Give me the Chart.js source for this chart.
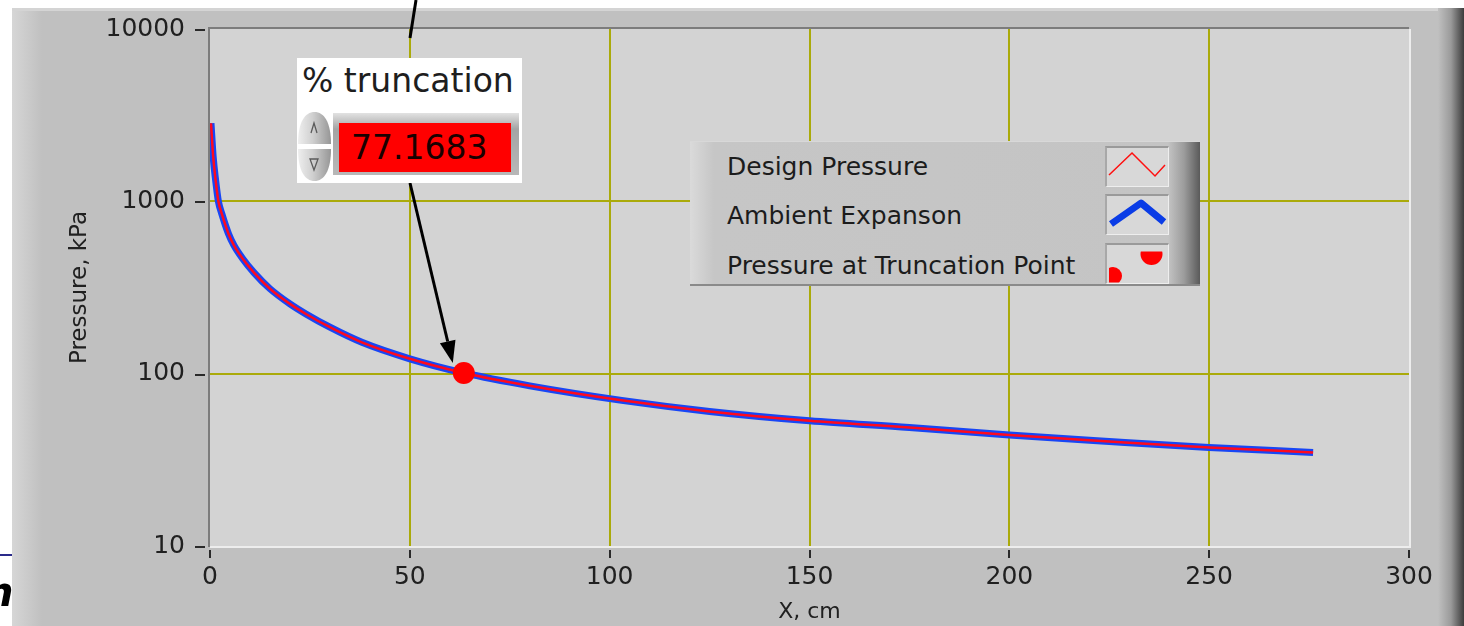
<!DOCTYPE html>
<html>
<head>
<meta charset="utf-8">
<title>Pressure vs X</title>
<script src="https://cdn.jsdelivr.net/npm/chart.js@4.4.1/dist/chart.umd.min.js"></script>
<style>
  body { margin: 0; background: #fff; font-family: "DejaVu Sans", sans-serif; }
  #wrap { position: relative; width: 1464px; height: 626px; overflow: hidden; }
  #wrap canvas { position: absolute; left: 0; top: 0; }

  #trunc { position: absolute; left: 297px; top: 58px; width: 225px; height: 125px; background: #fff; }
  #trunc-label { position: absolute; left: 5px; top: 6px; font-size: 33px; line-height: 33px; color: #1e1e1e; white-space: nowrap; }
  #spinner { position: absolute; left: 0; top: 52px; }
  #trunc-well { position: absolute; left: 36px; top: 55px; width: 186px; height: 62px;
    background: linear-gradient(#e2e2e2, #a4a4a4 16px, #b8b8b8); }
  #trunc-value { position: absolute; left: 42px; top: 65px; width: 172px; height: 49px; background: #ff0000;
    font-size: 33px; line-height: 33px; color: #1a0000; box-sizing: border-box; padding: 8px 0 0 12px; }

  #legend { position: absolute; left: 690px; top: 141px; width: 510px; height: 145px; box-sizing: border-box;
    background: linear-gradient(to right, #dadada 0px, #c6c6c6 24px, #c4c4c4 478px, #9c9c9c 494px, #5a5a5a 510px);
    border-bottom: 2px solid #8a8a8a; border-top: 1px solid #d8d8d8; }
  .leg-label { position: absolute; left: 37px; font-size: 25px; line-height: 25px; color: #1c1c1c; white-space: nowrap; }
  .leg-icon { position: absolute; left: 415px; width: 64px; height: 41px; box-sizing: border-box;
    background: #d8d8d8; border-top: 2px solid #9a9a9a; border-left: 2px solid #a8a8a8;
    border-right: 1px solid #eeeeee; border-bottom: 1px solid #eeeeee; }
  .leg-icon svg { position: absolute; left: -2px; top: -2px; }

  #slide-line { position: absolute; left: 0; top: 554px; width: 12px; height: 2px; background: #2a2a8a; }
  #slide-letter { position: absolute; left: -15px; top: 572px; font-size: 40px; line-height: 40px;
    font-weight: bold; font-style: italic; color: #000; }
</style>
</head>
<body>
<div id="wrap">
  <canvas id="pressure" width="1464" height="626"></canvas>

  <div id="slide-line"></div>
  <div id="slide-letter">n</div>

  <div id="trunc">
    <div id="trunc-label">% truncation</div>
    <svg id="spinner" width="35" height="73">
      <defs>
        <linearGradient id="spin-grad" x1="0" x2="1" y1="0" y2="0">
          <stop offset="0" stop-color="#eeeeee"/>
          <stop offset="0.45" stop-color="#cfcfcf"/>
          <stop offset="1" stop-color="#969696"/>
        </linearGradient>
      </defs>
      <path d="M1 34 C1 12 8 2 17.5 2 C27 2 34 12 34 34 Z" fill="url(#spin-grad)"/>
      <path d="M1 39 C1 61 8 71 17.5 71 C27 71 34 61 34 39 Z" fill="url(#spin-grad)"/>
      <path d="M14 23 L17 13 L20 23" stroke="#5a5a5a" stroke-width="1.3" fill="none"/>
      <path d="M13 49 L21 49 L17 60 Z" stroke="#5a5a5a" stroke-width="1.3" fill="none"/>
    </svg>
    <div id="trunc-well"></div>
    <div id="trunc-value"></div>
  </div>

  <div id="legend">
    <div class="leg-label" style="top: 12px">Design Pressure</div>
    <div class="leg-label" style="top: 61px">Ambient Expanson</div>
    <div class="leg-label" style="top: 111px">Pressure at Truncation Point</div>
    <div class="leg-icon" style="top: 4px">
      <svg width="64" height="41"><polyline points="4,29 27,7 50,30 60,19" stroke="#ff1010" stroke-width="1.5" fill="none"/></svg>
    </div>
    <div class="leg-icon" style="top: 52px">
      <svg width="64" height="41"><polyline points="6,30 36,9 59,28" stroke="#0a3ce6" stroke-width="7" fill="none" stroke-linejoin="round"/></svg>
    </div>
    <div class="leg-icon" style="top: 101px">
      <svg width="64" height="41">
        <defs><clipPath id="dot-clip"><rect x="4" y="8.5" width="56" height="31"/></clipPath></defs>
        <g clip-path="url(#dot-clip)" fill="#ff0000">
          <circle cx="8" cy="33" r="9"/>
          <circle cx="46.5" cy="11" r="11"/>
        </g>
      </svg>
    </div>
  </div>
</div>

<script>
// (x in cm, pressure in kPa)
const xValues = [0.25, 0.8, 1.4, 2.1, 3, 4.6, 6, 8, 11, 15, 20, 24, 30, 38, 50, 63.5, 80, 103, 125, 150, 175, 200, 225, 250, 276]
const designPressure = [2840, 1810, 1330, 1000, 840, 651, 555, 471, 386, 311, 254, 222, 186, 152, 122, 101, 85, 70, 60.4, 53.3, 48.7, 44.0, 40.4, 37.3, 34.9]
const ambientExpansion = [2840, 1810, 1330, 1000, 840, 651, 555, 471, 386, 311, 254, 222, 186, 152, 122, 101, 85, 70, 60.4, 53.3, 48.7, 44.0, 40.4, 37.3, 34.9]
const truncationX = [63.5]
const truncationP = [101]
const truncationPercent = "77.1683"

const xTicks = [0, 50, 100, 150, 200, 250, 300]
const yTicks = [10, 100, 1000, 10000]

const gridColor = "rgb(170,170,10)"
const textColor = "#202020"

document.getElementById("trunc-value").textContent = truncationPercent

function toPoints(xs, ys) {
  return xs.map((x, i) => ({ x: x, y: ys[i] }))
}

function innerGrid(count) {
  return (ctx) => (ctx.index === 0 || ctx.index === count - 1 ? "rgba(0,0,0,0)" : gridColor)
}

const labviewLook = {
  id: "labviewLook",
  beforeDraw(chart) {
    const { ctx, chartArea } = chart
    const w = chart.width
    const h = chart.height
    ctx.save()
    ctx.fillStyle = "#ffffff"
    ctx.fillRect(0, 0, w, h)

    // grey panel around the graph
    ctx.fillStyle = "#c0c0c0"
    ctx.fillRect(12, 8, w - 12, h - 8)
    let g = ctx.createLinearGradient(12, 0, 42, 0)
    g.addColorStop(0, "#d6d6d6")
    g.addColorStop(1, "#c0c0c0")
    ctx.fillStyle = g
    ctx.fillRect(12, 8, 30, h - 8)
    g = ctx.createLinearGradient(1438, 0, w, 0)
    g.addColorStop(0, "#c0c0c0")
    g.addColorStop(0.5, "#9a9a9a")
    g.addColorStop(1, "#3c3c3c")
    ctx.fillStyle = g
    ctx.fillRect(1438, 8, w - 1438, h - 8)
    ctx.fillStyle = "#d4d4d4"
    ctx.fillRect(12, 8, 1426, 3)

    // plot background
    ctx.fillStyle = "#d3d3d3"
    ctx.fillRect(chartArea.left, chartArea.top, chartArea.width, chartArea.height)
    ctx.restore()
  },
  beforeDatasetsDraw(chart) {
    const { ctx, chartArea } = chart
    ctx.save()
    ctx.lineWidth = 2
    ctx.strokeStyle = "#ededed"
    ctx.beginPath()
    ctx.moveTo(chartArea.left, chartArea.bottom + 1)
    ctx.lineTo(chartArea.right + 1, chartArea.bottom + 1)
    ctx.lineTo(chartArea.right + 1, chartArea.top)
    ctx.stroke()
    ctx.strokeStyle = "#7c7c7c"
    ctx.beginPath()
    ctx.moveTo(chartArea.left - 1, chartArea.bottom + 1)
    ctx.lineTo(chartArea.left - 1, chartArea.top - 1)
    ctx.lineTo(chartArea.right, chartArea.top - 1)
    ctx.stroke()
    ctx.restore()
  },
  afterDraw(chart) {
    const { ctx, chartArea } = chart
    const xs = chart.scales.x
    const ys = chart.scales.y
    ctx.save()

    // tick dashes, detached from the axes like the original
    ctx.strokeStyle = "#2a2a2a"
    ctx.lineWidth = 2
    yTicks.forEach((v) => {
      const py = Math.round(ys.getPixelForValue(v)) + 1
      ctx.beginPath()
      ctx.moveTo(195, py)
      ctx.lineTo(205, py)
      ctx.stroke()
    })
    xTicks.forEach((v) => {
      const px = Math.round(xs.getPixelForValue(v))
      ctx.beginPath()
      ctx.moveTo(px, chartArea.bottom + 4)
      ctx.lineTo(px, chartArea.bottom + 12)
      ctx.stroke()
    })

    // arrow from the % truncation box to the truncation point
    const cx = xs.getPixelForValue(truncationX[0])
    const cy = ys.getPixelForValue(truncationP[0])
    const tipX = cx - 11
    const tipY = cy - 10
    const startX = 410
    const startY = 183
    const len = Math.hypot(tipX - startX, tipY - startY)
    const ux = (tipX - startX) / len
    const uy = (tipY - startY) / len
    const baseX = tipX - ux * 22
    const baseY = tipY - uy * 22
    ctx.strokeStyle = "#000"
    ctx.lineWidth = 3
    ctx.beginPath()
    ctx.moveTo(startX, startY)
    ctx.lineTo(baseX, baseY)
    ctx.stroke()
    ctx.fillStyle = "#000"
    ctx.beginPath()
    ctx.moveTo(tipX, tipY)
    ctx.lineTo(baseX - uy * 8, baseY + ux * 8)
    ctx.lineTo(baseX + uy * 8, baseY - ux * 8)
    ctx.closePath()
    ctx.fill()

    // leader line coming into the box from above
    ctx.beginPath()
    ctx.moveTo(416, 0)
    ctx.lineTo(410, 38)
    ctx.stroke()
    ctx.restore()
  }
}

Chart.defaults.font.family = "DejaVu Sans"

const pressureChart = new Chart(document.getElementById("pressure"), {
  type: "line",
  data: {
    datasets: [
      {
        label: "Pressure at Truncation Point",
        data: toPoints(truncationX, truncationP),
        showLine: false,
        pointRadius: 11,
        pointStyle: "circle",
        pointBackgroundColor: "#ff0000",
        pointBorderWidth: 0,
        order: 0,
      },
      {
        label: "Design Pressure",
        data: toPoints(xValues, designPressure),
        borderColor: "#ff0a1e",
        borderWidth: 2.5,
        pointRadius: 0,
        cubicInterpolationMode: "monotone",
        order: 1,
      },
      {
        label: "Ambient Expanson",
        data: toPoints(xValues, ambientExpansion),
        borderColor: "#1846f5",
        borderWidth: 7,
        pointRadius: 0,
        cubicInterpolationMode: "monotone",
        order: 2,
      },
    ],
  },
  options: {
    responsive: false,
    animation: false,
    layout: {
      padding: { left: 0, top: 29, right: 55, bottom: 0 },
    },
    plugins: {
      legend: { display: false },
      tooltip: { enabled: false },
    },
    scales: {
      x: {
        type: "linear",
        min: 0,
        max: 300,
        afterBuildTicks: (scale) => {
          scale.ticks = xTicks.map((v) => ({ value: v }))
        },
        afterFit: (scale) => {
          scale.height = 80
        },
        // invisible tick marks only push the labels away from the axis
        grid: { color: innerGrid(xTicks.length), lineWidth: 2, drawTicks: true, tickLength: 16, tickColor: "rgba(0,0,0,0)" },
        border: { display: false },
        ticks: {
          color: textColor,
          font: { size: 25 },
          padding: 0,
          maxRotation: 0,
          autoSkip: false,
        },
        title: {
          display: true,
          text: "X, cm",
          color: textColor,
          font: { size: 22 },
          padding: { top: 0, bottom: 1 },
        },
      },
      y: {
        type: "logarithmic",
        min: 10,
        max: 10000,
        afterBuildTicks: (scale) => {
          scale.ticks = yTicks.map((v) => ({ value: v }))
        },
        afterFit: (scale) => {
          scale.width = 210
        },
        grid: { color: innerGrid(yTicks.length), lineWidth: 2, drawTicks: true, tickLength: 25, tickColor: "rgba(0,0,0,0)" },
        border: { display: false },
        ticks: {
          color: textColor,
          font: { size: 25 },
          padding: 0,
          autoSkip: false,
          callback: (v) => String(v),
        },
        title: {
          display: true,
          text: "Pressure, kPa",
          color: textColor,
          font: { size: 23 },
          padding: { top: 66, bottom: 0 },
        },
      },
    },
  },
  plugins: [labviewLook],
})
</script>
</body>
</html>
